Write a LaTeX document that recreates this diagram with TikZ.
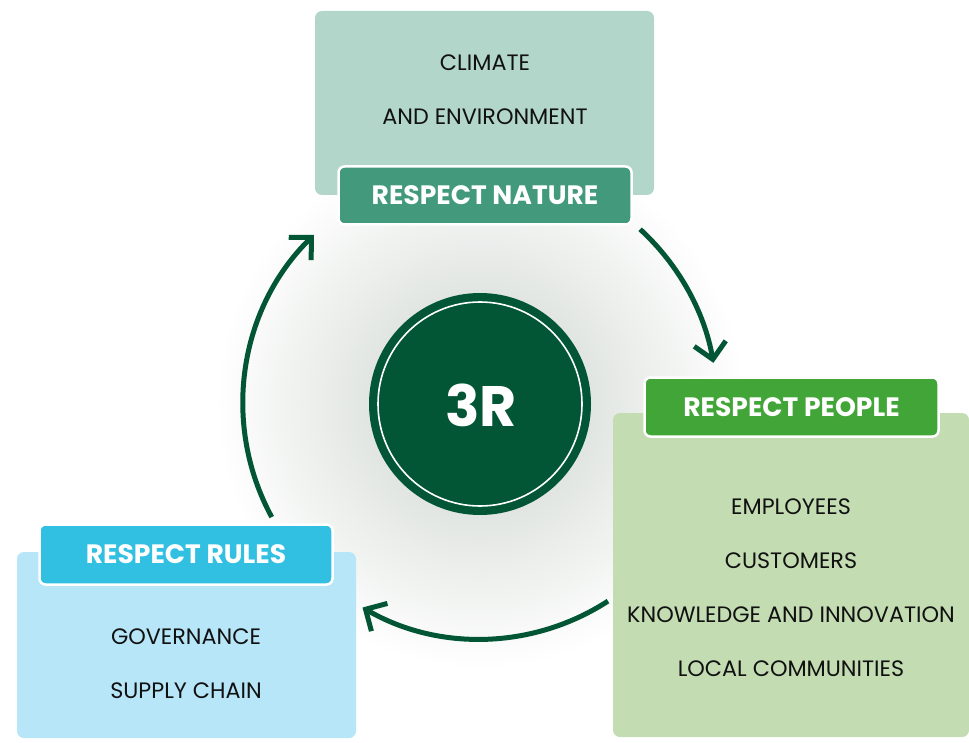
\documentclass[tikz,border=0pt]{standalone}
\usepackage{fontspec}
\setmainfont{Poppins}
\usetikzlibrary{arrows.meta,calc}
\definecolor{natbg}{HTML}{B2D6C9}
\definecolor{natlab}{HTML}{43997C}
\definecolor{peobg}{HTML}{C3DCB2}
\definecolor{peolab}{HTML}{42A537}
\definecolor{rulbg}{HTML}{B7E6F9}
\definecolor{rullab}{HTML}{31BFE2}
\definecolor{dkgreen}{HTML}{025635}
\definecolor{glowc}{HTML}{DEE3DF}
\definecolor{txt}{HTML}{111111}
\pgfdeclareradialshading{glowshade}{\pgfpoint{0bp}{0bp}}{color(0bp)=(glowc); color(9bp)=(glowc); color(25bp)=(white); color(50bp)=(white)}
\tikzset{
  bigbox/.style={rectangle, rounded corners=7pt, inner sep=0pt},
  labbox/.style={rectangle, rounded corners=6pt, draw=white, line width=2.5pt, inner sep=0pt, text=white, font=\fontsize{26.6}{29}\selectfont\bfseries},
  item/.style={text=txt, inner sep=0pt, font=\fontsize{22.3}{26}\selectfont},
  cyc/.style={draw=dkgreen, line width=5pt, -{Straight Barb[length=16pt,width=32pt,line width=5pt]}}
}
\begin{document}
\begin{tikzpicture}[x=1pt,y=-1pt]
\useasboundingbox[fill=white] (0,0) rectangle (969,743);
\coordinate (c) at (480,404);
\shade[shading=glowshade] (c) circle (265);
% big boxes
\node[bigbox, fill=natbg, minimum width=339pt, minimum height=184pt] (natbox) at (484.5,103) {};
\node[bigbox, fill=peobg, minimum width=356pt, minimum height=324pt] (peobox) at (791,575) {};
\node[bigbox, fill=rulbg, minimum width=339pt, minimum height=186pt] (rulbox) at (186.5,645) {};
% items
\node[item] (i1) at (485,63) {CLIMATE};
\node[item] (i2) at (485,117) {AND ENVIRONMENT};
\node[item] (i3) at (791,507) {EMPLOYEES};
\node[item] (i4) at (791,561) {CUSTOMERS};
\node[item] (i5) at (791,615) {KNOWLEDGE AND INNOVATION};
\node[item] (i6) at (791,669) {LOCAL COMMUNITIES};
\node[item] (i7) at (186,637) {GOVERNANCE};
\node[item] (i8) at (186,691) {SUPPLY CHAIN};
% labels
\node[labbox, fill=natlab, minimum width=293pt, minimum height=58pt] (natlab) at (485,195.5) {RESPECT NATURE};
\node[labbox, fill=peolab, minimum width=294pt, minimum height=59pt] (peolab) at (791.5,407) {RESPECT PEOPLE};
\node[labbox, fill=rullab, minimum width=293pt, minimum height=60pt] (rullab) at (186,554.5) {RESPECT RULES};
% centre
\node[circle, fill=dkgreen, minimum size=222pt, inner sep=0pt] (core) at (c) {};
\draw[white, line width=1.6pt] (core.center) circle (102);
\node[text=white, font=\fontsize{57}{57}\selectfont\bfseries, inner sep=0pt] (tr) at (481,405) {3R};
% cycle arrows
\coordinate (a1s) at ($(c)+(-47.5:237)$);
\draw[cyc] (a1s) arc[start angle=-47.5, end angle=-10, radius=237];
\coordinate (a2s) at ($(c)+(57:235)$);
\draw[cyc] (a2s) arc[start angle=57, end angle=120, radius=235];
\coordinate (a3s) at ($(c)+(151.5:237)$);
\draw[cyc] (a3s) arc[start angle=151.5, end angle=225.5, radius=237];
\end{tikzpicture}
\end{document}
